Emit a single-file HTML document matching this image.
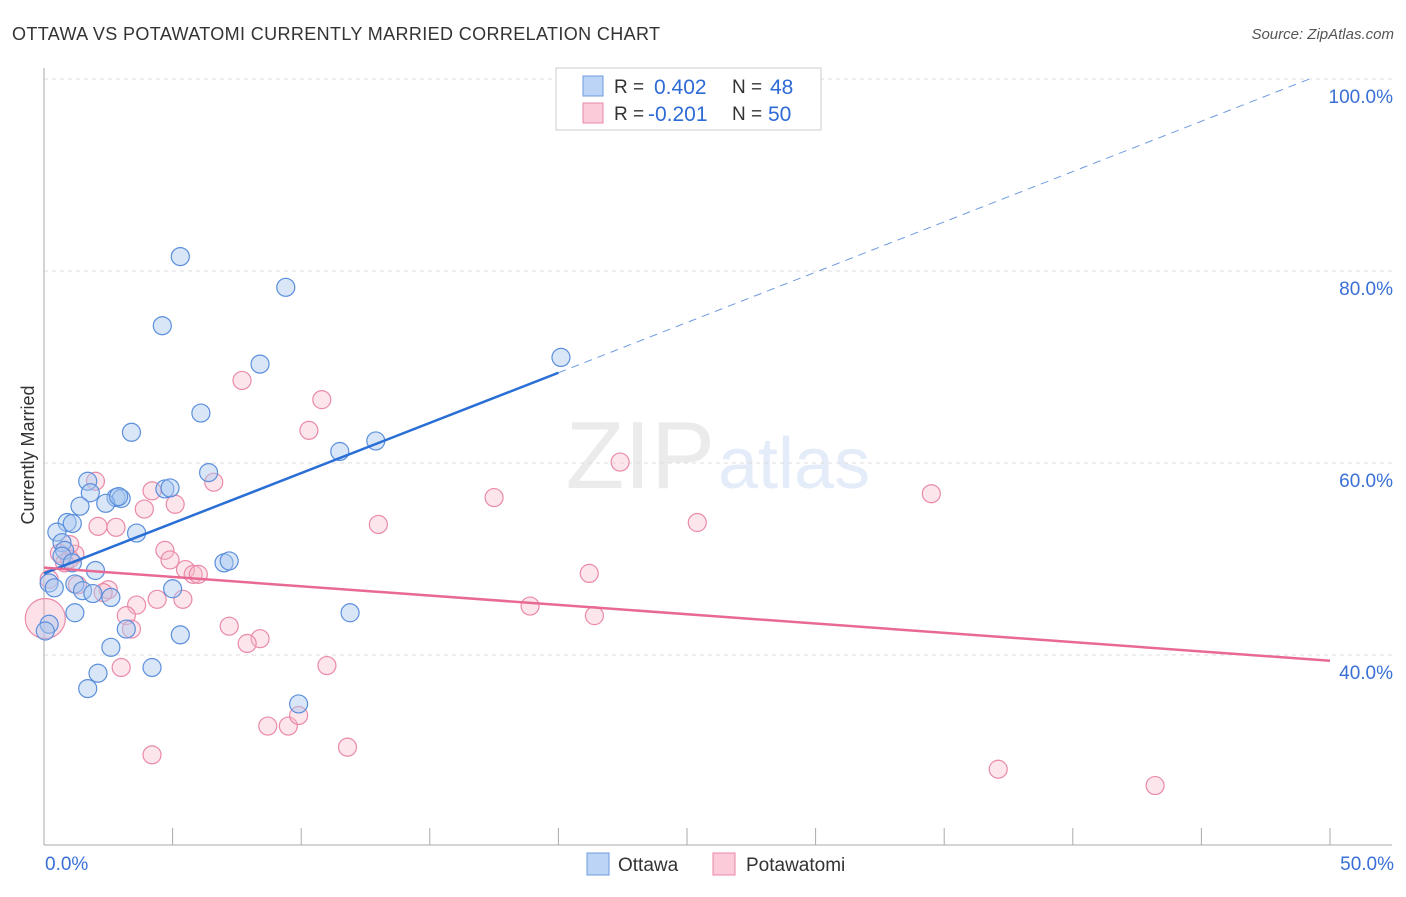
<!DOCTYPE html>
<html><head><meta charset="utf-8"><style>
body{margin:0;background:#fff;font-family:"Liberation Sans",sans-serif}
svg text{font-family:"Liberation Sans",sans-serif}
</style></head><body>
<svg width="1406" height="892" viewBox="0 0 1406 892">
<text x="12" y="40" font-size="18" fill="#333" textLength="648">OTTAWA VS POTAWATOMI CURRENTLY MARRIED CORRELATION CHART</text>
<text x="1394" y="39" font-size="15" fill="#555" font-style="italic" text-anchor="end">Source: ZipAtlas.com</text>
<text x="715" y="488" font-size="96" fill="#ebebeb" text-anchor="end" font-family="Liberation Serif">ZIP</text>
<text x="718" y="488" font-size="72" fill="#e3ecf8">atlas</text>
<g id="grid"></g>
<g id="axes"></g>
<g id="marks"></g>
<text x="34" y="455" font-size="18" fill="#333" text-anchor="middle" transform="rotate(-90 34 455)">Currently Married</text>
<text x="45" y="870" font-size="19" fill="#3a6fd8">0.0%</text>
<text x="1394" y="870" font-size="19" fill="#3a6fd8" text-anchor="end">50.0%</text>
<g>
<rect x="556" y="68" width="265" height="62" fill="#fff" stroke="#ccc"/>
<rect x="583" y="76" width="20" height="20" fill="#bcd4f5" stroke="#6d9be0"/>
<rect x="583" y="103" width="20" height="20" fill="#fbcbd9" stroke="#ea8aa8"/>
<text x="614" y="93" font-size="19" fill="#333">R = </text><text x="654" y="94" font-size="21" fill="#2e6bd6">0.402</text>
<text x="732" y="93" font-size="19" fill="#333">N = </text><text x="770" y="94" font-size="21" fill="#2e6bd6">48</text>
<text x="614" y="120" font-size="19" fill="#333">R = </text><text x="648" y="121" font-size="21" fill="#2e6bd6">-0.201</text>
<text x="732" y="120" font-size="19" fill="#333">N = </text><text x="768" y="121" font-size="21" fill="#2e6bd6">50</text>
</g>
<g>
<rect x="587" y="853" width="22" height="22" fill="#bcd4f5" stroke="#6d9be0"/>
<text x="618" y="871" font-size="19" fill="#333">Ottawa</text>
<rect x="713" y="853" width="22" height="22" fill="#fbcbd9" stroke="#ea8aa8"/>
<text x="746" y="871" font-size="19" fill="#333">Potawatomi</text>
</g>
</svg>
<script>
const yTicks=[100,80,60,40];
const xTicks=[0,5,10,15,20,25,30,35,40,45,50];
const ottawaX=[5.3,9.4,4.6,8.4,20.1,6.1,3.4,11.5,12.9,6.4,1.7,1.8,4.7,4.9,2.8,3.0,1.4,2.4,0.9,0.5,3.6,0.7,0.8,0.7,1.1,2.0,7.0,7.2,0.2,0.4,1.2,1.5,1.9,2.6,5.0,1.2,11.9,3.2,5.3,0.2,2.6,4.2,2.1,1.7,9.9,0.05,1.1,2.9];
const ottawaY=[81.5,78.3,74.3,70.3,71.0,65.2,63.2,61.2,62.3,59.0,58.1,56.9,57.3,57.4,56.4,56.3,55.5,55.8,53.8,52.8,52.7,51.7,50.9,50.3,49.6,48.8,49.6,49.8,47.5,47.0,47.4,46.7,46.4,46.0,46.9,44.4,44.4,42.7,42.1,43.2,40.8,38.7,38.1,36.5,34.9,42.5,53.7,56.5];
const potX=[7.7,10.8,10.3,22.4,6.6,2.0,4.2,17.5,34.5,3.9,5.1,2.1,2.8,13.0,25.4,4.7,4.9,0.6,1.2,1.0,5.5,5.8,6.0,21.2,1.3,2.5,2.3,4.4,5.4,18.9,3.6,3.2,21.4,3.4,7.2,8.4,7.9,3.0,11.0,8.7,9.5,9.9,4.2,11.8,37.1,43.2,0.05,0.8,0.2,1.0];
const potY=[68.6,66.6,63.4,60.1,58.0,58.1,57.1,56.4,56.8,55.2,55.7,53.4,53.3,53.6,53.8,50.9,49.9,50.6,50.5,51.5,48.9,48.4,48.4,48.5,47.3,46.8,46.5,45.8,45.8,45.1,45.2,44.1,44.1,42.7,43.0,41.7,41.2,38.7,38.9,32.6,32.6,33.7,29.6,30.4,28.1,26.4,43.8,49.6,47.9,50.0];
const ottawaTrend=[0,48.5,20,69.4];
const ottawaTrendExt=[49.2,100];
const potTrend=[0,49.1,50,39.4];
const NS='http://www.w3.org/2000/svg';
const X=v=>44+v*25.72, Y=v=>79+(100-v)*9.6;
function mk(t,a,p){const e=document.createElementNS(NS,t);for(const k in a)e.setAttribute(k,a[k]);p.appendChild(e);return e;}
const grid=document.getElementById('grid'),axes=document.getElementById('axes'),marks=document.getElementById('marks');
yTicks.forEach(v=>{
 const l=mk('line',{x1:44,x2:1392,y1:Y(v),y2:Y(v),stroke:'#ddd','stroke-dasharray':'4,4'},grid);
 
 
 const t=mk('text',{x:1393,y:Y(v)+24,'font-size':19,fill:'#3a6fd8','text-anchor':'end'},grid);
 t.textContent=v.toFixed(1)+'%';
 
 
});
const ya=mk('line',{x1:44,x2:44,y1:68,y2:845,stroke:'#aaa'},axes);


const xa=mk('line',{x1:44,x2:1392,y1:845,y2:845,stroke:'#aaa'},axes);


xTicks.forEach(v=>{
 const l=mk('line',{x1:X(v),x2:X(v),y1:828,y2:845,stroke:'#aaa'},axes);
 
 
});
const big=mk('circle',{cx:X(potX[46]),cy:Y(potY[46]),r:20,fill:'#f7a8c0','fill-opacity':0.35,stroke:'#ea8aa8','stroke-width':1.2},marks);


potX.forEach((x,i)=>{if(i===46)return;
 const c=mk('circle',{cx:X(x),cy:Y(potY[i]),r:9,fill:'#f7b6c9','fill-opacity':0.35,stroke:'#ea8aa8','stroke-width':1.2},marks);
 
 
});
ottawaX.forEach((x,i)=>{
 const c=mk('circle',{cx:X(x),cy:Y(ottawaY[i]),r:9,fill:'#a9c7f0','fill-opacity':0.45,stroke:'#5b8fdc','stroke-width':1.2},marks);
 
 
});
const l1=mk('line',{x1:X(ottawaTrend[0]),y1:Y(ottawaTrend[1]),x2:X(ottawaTrend[2]),y2:Y(ottawaTrend[3]),stroke:'#2a6fd6','stroke-width':2.5},marks);


const l2=mk('line',{x1:X(ottawaTrend[2]),y1:Y(ottawaTrend[3]),x2:X(ottawaTrendExt[0]),y2:Y(ottawaTrendExt[1]),stroke:'#6d9be0','stroke-width':1,'stroke-dasharray':'8,6'},marks);


const l3=mk('line',{x1:X(potTrend[0]),y1:Y(potTrend[1]),x2:X(potTrend[2]),y2:Y(potTrend[3]),stroke:'#e86a94','stroke-width':2.5},marks);


</script>
</body></html>
